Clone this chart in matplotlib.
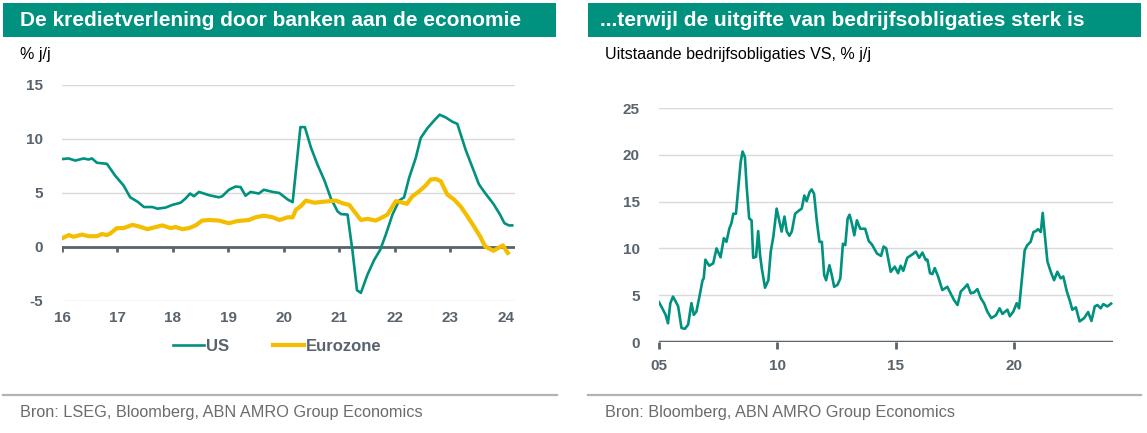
import matplotlib
matplotlib.use("Agg")
import matplotlib.pyplot as plt
from matplotlib.patches import Rectangle
from matplotlib.lines import Line2D

# Left chart: bank lending, % y/y
us_years = [2016.02, 2016.12, 2016.24, 2016.39, 2016.48, 2016.54, 2016.63, 2016.81, 2016.96,
            2017.11, 2017.23, 2017.36, 2017.48, 2017.63, 2017.72, 2017.87, 2017.99,
            2018.14, 2018.23, 2018.31, 2018.38, 2018.47, 2018.65, 2018.83, 2018.89,
            2019.01, 2019.13, 2019.22, 2019.31, 2019.40, 2019.55, 2019.64, 2019.80, 2019.92,
            2020.07, 2020.16, 2020.30, 2020.38, 2020.49, 2020.61, 2020.73, 2020.85, 2020.97,
            2021.03, 2021.15, 2021.24, 2021.32, 2021.39, 2021.51, 2021.63, 2021.74, 2021.84, 2021.96,
            2022.08, 2022.17, 2022.26, 2022.38, 2022.47, 2022.59, 2022.71, 2022.81, 2022.92,
            2023.04, 2023.13, 2023.28, 2023.40, 2023.52, 2023.63, 2023.78, 2023.90, 2023.98,
            2024.06, 2024.12]
us_values = [8.15, 8.2, 8.0, 8.2, 8.1, 8.2, 7.8, 7.7, 6.6,
             5.7, 4.6, 4.2, 3.7, 3.7, 3.55, 3.65, 3.9,
             4.1, 4.5, 4.95, 4.7, 5.1, 4.8, 4.6, 4.7,
             5.3, 5.6, 5.55, 4.75, 5.1, 4.95, 5.3, 5.1, 5.0,
             4.4, 4.15, 11.1, 11.1, 9.2, 7.6, 6.2, 4.5, 3.3,
             3.05, 3.0, -0.4, -4.0, -4.25, -2.55, -1.2, -0.25, 1.15, 3.0,
             4.3, 4.6, 6.4, 8.25, 10.1, 11.0, 11.7, 12.25, 12.0,
             11.6, 11.4, 9.0, 7.4, 5.8, 5.0, 4.0, 3.0, 2.2,
             2.0, 2.0]

ez_years = [2016.02, 2016.12, 2016.21, 2016.36, 2016.48, 2016.63, 2016.72, 2016.81, 2016.87, 2016.99,
            2017.11, 2017.27, 2017.39, 2017.54, 2017.69, 2017.81, 2017.96,
            2018.05, 2018.17, 2018.29, 2018.41, 2018.53, 2018.65, 2018.83,
            2019.01, 2019.16, 2019.37, 2019.49, 2019.64, 2019.80, 2019.92,
            2020.07, 2020.16, 2020.22, 2020.31, 2020.40, 2020.55, 2020.73, 2020.94,
            2021.06, 2021.18, 2021.27, 2021.39, 2021.51, 2021.66, 2021.78, 2021.87,
            2022.02, 2022.11, 2022.22, 2022.32, 2022.44, 2022.56, 2022.65, 2022.74, 2022.83, 2022.95,
            2023.07, 2023.19, 2023.31, 2023.43, 2023.55, 2023.63, 2023.78, 2023.95, 2024.04]
ez_values = [0.85, 1.1, 0.95, 1.15, 1.0, 1.0, 1.2, 1.1, 1.25, 1.75,
             1.75, 2.05, 1.9, 1.65, 1.85, 2.0, 1.75,
             1.85, 1.65, 1.75, 2.0, 2.45, 2.5, 2.45,
             2.2, 2.4, 2.5, 2.75, 2.9, 2.75, 2.5,
             2.75, 2.75, 3.45, 3.8, 4.3, 4.1, 4.2, 4.3,
             4.05, 3.9, 3.3, 2.5, 2.6, 2.45, 2.75, 3.0,
             4.25, 4.15, 4.0, 4.7, 5.15, 5.7, 6.25, 6.3, 6.1, 4.85,
             4.4, 3.75, 2.85, 1.9, 0.9, 0.05, -0.35, 0.15, -0.55]

# Right chart: outstanding US corporate bonds, % y/y
bond_years = [2005.00, 2005.17, 2005.28, 2005.38, 2005.48, 2005.59, 2005.71, 2005.81, 2005.95,
              2006.09, 2006.23, 2006.37, 2006.47, 2006.58, 2006.72, 2006.84, 2006.89, 2006.96,
              2007.12, 2007.29, 2007.43, 2007.60, 2007.74, 2007.85, 2007.97,
              2008.06, 2008.14, 2008.25, 2008.35, 2008.45, 2008.53, 2008.63, 2008.70, 2008.81, 2008.91, 2008.98,
              2009.10, 2009.19, 2009.27, 2009.34, 2009.48, 2009.62, 2009.72, 2009.83, 2009.97,
              2010.18, 2010.30, 2010.40, 2010.51, 2010.61, 2010.75, 2010.89,
              2011.03, 2011.14, 2011.24, 2011.36, 2011.45, 2011.55, 2011.67, 2011.78, 2011.88, 2011.98,
              2012.06, 2012.20, 2012.30, 2012.40, 2012.54, 2012.66, 2012.77, 2012.87, 2012.97,
              2013.05, 2013.15, 2013.25, 2013.36, 2013.50, 2013.71, 2013.86,
              2014.00, 2014.21, 2014.38, 2014.49, 2014.60, 2014.79, 2014.96,
              2015.10, 2015.21, 2015.32, 2015.49, 2015.70, 2015.85, 2015.99,
              2016.13, 2016.27, 2016.34, 2016.45, 2016.55, 2016.65, 2016.79, 2016.97,
              2017.18, 2017.35, 2017.46, 2017.61, 2017.75, 2017.89,
              2018.03, 2018.17, 2018.31, 2018.45, 2018.59, 2018.73, 2018.87,
              2019.04, 2019.23, 2019.39, 2019.51, 2019.72, 2019.82, 2019.97,
              2020.11, 2020.21, 2020.35, 2020.45, 2020.56, 2020.70, 2020.82, 2020.92,
              2021.01, 2021.13, 2021.21, 2021.30, 2021.41, 2021.55, 2021.69, 2021.83, 2021.97,
              2022.08, 2022.23, 2022.37, 2022.46, 2022.61, 2022.77, 2022.96,
              2023.13, 2023.27, 2023.41, 2023.52, 2023.66, 2023.77, 2023.94, 2024.10]
bond_values = [4.25, 3.45, 2.9, 2.0, 4.15, 4.85, 4.3, 3.8, 1.5,
               1.4, 1.85, 4.15, 2.9, 3.25, 5.0, 6.6, 6.8, 8.8,
               8.15, 8.4, 10.0, 9.05, 11.1, 10.7, 12.1,
               12.7, 13.7, 13.7, 16.4, 19.2, 20.35, 19.75, 16.7, 13.2, 13.0, 9.0,
               9.1, 11.85, 9.3, 7.9, 5.8, 6.6, 9.65, 11.25, 14.25,
               11.8, 13.4, 11.8, 11.35, 11.8, 13.7, 14.0,
               14.25, 15.65, 15.05, 16.0, 16.3, 15.85, 12.85, 10.7, 10.7, 7.15,
               6.6, 8.2, 7.15, 5.9, 6.1, 6.8, 10.5, 10.35, 13.2,
               13.6, 12.65, 11.4, 13.0, 12.1, 12.1, 10.8,
               10.4, 9.45, 9.2, 10.2, 10.0, 7.5, 8.05,
               7.35, 8.15, 7.6, 9.0, 9.35, 9.65, 9.0,
               9.55, 8.75, 8.8, 7.35, 7.25, 7.9, 7.0, 5.55,
               5.9, 5.05, 4.5, 3.95, 5.4, 5.75,
               6.15, 5.2, 5.3, 5.65, 4.7, 4.15, 3.25,
               2.55, 2.85, 3.6, 3.0, 3.45, 2.75, 3.25,
               4.15, 3.6, 7.15, 9.8, 10.35, 10.7, 11.75, 11.85,
               12.05, 11.75, 13.8, 11.4, 8.6, 7.5, 6.6, 7.5, 6.8,
               7.0, 5.4, 4.3, 3.45, 3.7, 2.2, 2.55,
               3.2, 2.25, 3.8, 3.95, 3.6, 4.05, 3.8, 4.1]

left_xticks = list(range(2016, 2025))
left_xlabels = ["16", "17", "18", "19", "20", "21", "22", "23", "24"]
left_yticks = [-5, 0, 5, 10, 15]
right_xticks = [2005, 2010, 2015, 2020]
right_xlabels = ["05", "10", "15", "20"]
right_yticks = [0, 5, 10, 15, 20, 25]

TEAL = "#00917f"
GOLD = "#f5bd00"
AXIS = "#58636d"
GRID = "#d9d9d9"
W, H = 1147, 433

plt.rcParams["font.family"] = ["Liberation Sans", "DejaVu Sans"]
plt.rcParams["axes.unicode_minus"] = False

fig = plt.figure(figsize=(W / 100, H / 100), dpi=100)


def fx(px):
    return px / W


def fy(py):
    return 1 - py / H


def banner(x0, x1, text, tx):
    fig.add_artist(Rectangle((fx(x0), fy(37)), fx(x1 - x0), fy(3) - fy(37),
                             transform=fig.transFigure, color=TEAL, lw=0))
    fig.text(fx(tx), fy(20), text, color="white", fontsize=15, fontweight="bold",
             va="center", ha="left")


def style_axes(ax, xticks, xlabels, yticks):
    ax.set_yticks(yticks)
    ax.set_xticks(xticks)
    ax.set_xticklabels(xlabels)
    ax.grid(axis="y", color=GRID, lw=1)
    ax.set_axisbelow(True)
    for s in ["top", "right", "left", "bottom"]:
        ax.spines[s].set_visible(False)
    ax.tick_params(axis="y", length=0, pad=14, labelsize=11, labelcolor=AXIS)
    ax.tick_params(axis="x", length=5, width=2, color=AXIS, pad=7,
                   labelsize=11, labelcolor=AXIS)
    for lab in ax.get_xticklabels() + ax.get_yticklabels():
        lab.set_fontweight("bold")


# left panel
banner(3, 556, "De kredietverlening door banken aan de economie", 20)
fig.text(fx(20), fy(55), "% j/j", fontsize=11.5, va="center", ha="left")
ax1 = fig.add_axes([fx(62), fy(301), fx(515 - 62), fy(85) - fy(301)])
ax1.plot(us_years, us_values, color=TEAL, lw=1.9, label="US", zorder=3)
ax1.plot(ez_years, ez_values, color=GOLD, lw=3.0, label="Eurozone", zorder=3)
ax1.axhline(0, color=AXIS, lw=2, zorder=2)
ax1.set_xlim(2016, 2024.17)
ax1.set_ylim(-5, 15)
style_axes(ax1, left_xticks, left_xlabels, left_yticks)
# ticks hang from the zero line, not the bottom of the axes
ax1.tick_params(axis="x", length=0)
for xt in left_xticks:
    ax1.plot([xt, xt], [0, -0.45], color=AXIS, lw=2, zorder=2, solid_capstyle="butt")
leg = ax1.legend(loc="center", bbox_to_anchor=(0.475, -0.21), ncol=2, frameon=False,
                 fontsize=12, handlelength=1.9, handletextpad=0.1, columnspacing=2.6)
for t in leg.get_texts():
    t.set_color(AXIS)
    t.set_fontweight("bold")

# right panel
banner(588, 1141, "...terwijl de uitgifte van bedrijfsobligaties sterk is", 600)
fig.text(fx(605), fy(55), "Uitstaande bedrijfsobligaties VS, % j/j", fontsize=11.5,
         va="center", ha="left")
ax2 = fig.add_axes([fx(659), fy(342), fx(1113 - 659), fy(108) - fy(342)])
ax2.plot(bond_years, bond_values, color=TEAL, lw=1.9, zorder=3)
ax2.axhline(0, color=AXIS, lw=2.5, zorder=2)
ax2.set_xlim(2005, 2024.18)
ax2.set_ylim(0, 25)
style_axes(ax2, right_xticks, right_xlabels, right_yticks)

# source lines
for x0, x1, src, tx in [(3, 557, "Bron: LSEG, Bloomberg, ABN AMRO Group Economics", 20),
                        (588, 1141, "Bron: Bloomberg, ABN AMRO Group Economics", 605)]:
    fig.add_artist(Line2D([fx(x0), fx(x1)], [fy(395), fy(395)], transform=fig.transFigure,
                          color="#b3b3b3", lw=1.6))
    fig.text(fx(tx), fy(413), src, fontsize=11.7, color="#6b6b6b", va="center", ha="left")

fig.savefig("out.png", dpi=100)
